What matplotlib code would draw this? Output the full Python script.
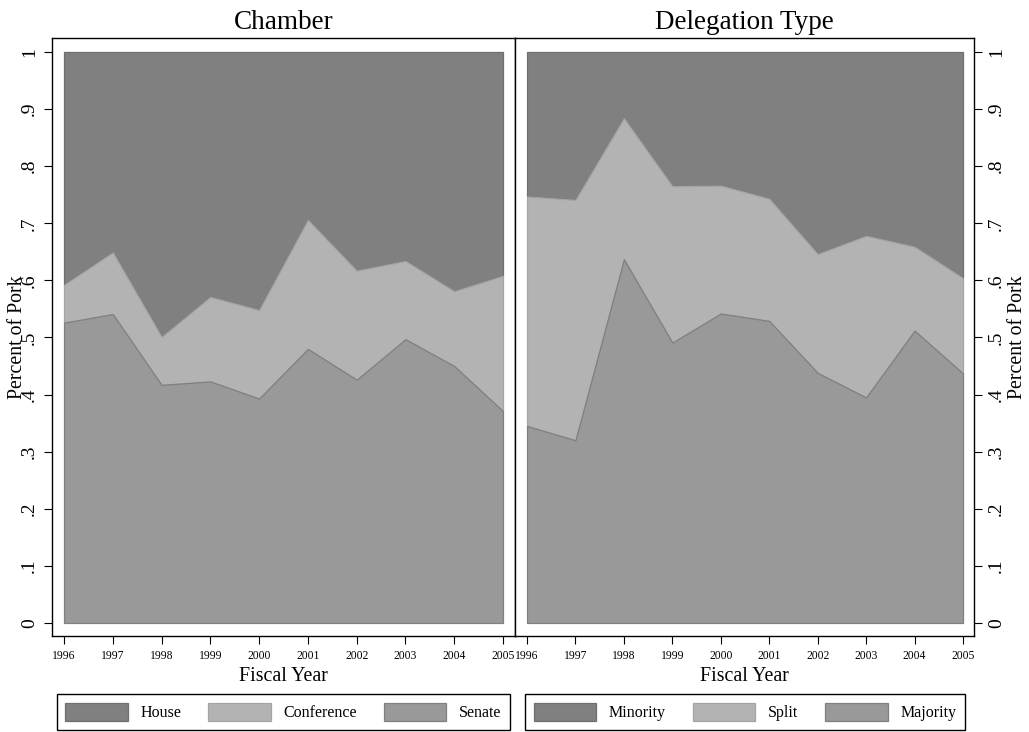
import matplotlib.pyplot as plt

plt.rcParams['font.family'] = ['Liberation Serif', 'DejaVu Serif']

years = [1996, 1997, 1998, 1999, 2000, 2001, 2002, 2003, 2004, 2005]

# share of pork by chamber (bottom to top: Senate, Conference, House)
senate = [.526, .541, .417, .423, .393, .480, .426, .497, .450, .371]
conference = [.066, .108, .084, .148, .155, .226, .191, .137, .131, .237]
house = [.408, .351, .499, .429, .452, .294, .383, .366, .419, .392]

# share of pork by delegation type (bottom to top: Majority, Split, Minority)
majority = [.345, .320, .637, .491, .542, .529, .438, .395, .512, .437]
split = [.402, .421, .247, .274, .224, .214, .208, .283, .147, .167]
minority = [.253, .259, .116, .235, .234, .257, .354, .322, .341, .396]

yticks = [0, .1, .2, .3, .4, .5, .6, .7, .8, .9, 1]
ytick_labels = ['0', '.1', '.2', '.3', '.4', '.5', '.6', '.7', '.8', '.9', '1']

fills = ['#999999', '#b3b3b3', '#808080']
edges = ['#808080', '#a4a4a4', '#6f6f6f']

W, H = 1029, 732
fig = plt.figure(figsize=(W / 100, H / 100), dpi=100)
ax1 = fig.add_axes([52 / W, 1 - 636 / H, 463 / W, 598 / H])
ax2 = fig.add_axes([515 / W, 1 - 636 / H, 459 / W, 598 / H])


def panel(ax, title, series, names, side, xlim, legend_x):
    polys = ax.stackplot(years, *series, colors=fills, labels=names)
    for p, ec, z in zip(polys, edges, [3, 2, 1]):
        p.set_edgecolor(ec)
        p.set_linewidth(0.9)
        p.set_zorder(z)

    ax.set_xlim(*xlim)
    ax.set_ylim(-0.0228, 1.0245)
    ax.set_xticks(years)
    ax.set_xticklabels([str(y) for y in years], fontsize=8.4)
    ax.set_yticks(yticks)
    ax.set_yticklabels(ytick_labels, rotation=90, va='center', fontsize=14)
    ax.tick_params(direction='out', length=6, width=0.8, color='black', pad=4)
    for s in ax.spines.values():
        s.set_linewidth(1.0)
        s.set_color('black')
        s.set_zorder(5)

    ax.set_title(title, fontsize=19.5, pad=6.5)
    ax.set_xlabel('Fiscal Year', fontsize=14.3, labelpad=4)
    ax.set_ylabel('Percent of Pork', fontsize=14.3)
    if side == 'right':
        ax.yaxis.tick_right()
        ax.yaxis.set_label_position('right')
        ax.yaxis.set_label_coords((1018 - 515) / 459, 0.5)
    else:
        ax.yaxis.set_label_coords((18 - 52) / 463, 0.5)
    ax.yaxis.label.set_verticalalignment('center')

    leg = ax.legend(polys[::-1], names[::-1], loc='center', ncol=3,
                    bbox_to_anchor=(legend_x / W, 1 - 712 / H),
                    bbox_transform=fig.transFigure,
                    fontsize=11.5, frameon=True, fancybox=False,
                    edgecolor='black', framealpha=1,
                    handlelength=3.9, handleheight=1.35, handletextpad=0.8,
                    columnspacing=1.7, borderpad=0.55, borderaxespad=0)
    leg.get_frame().set_linewidth(1.0)


panel(ax1, 'Chamber', [senate, conference, house],
      ['Senate', 'Conference', 'House'], 'left',
      (1995.754, 2005.246), 283.5)
panel(ax2, 'Delegation Type', [majority, split, minority],
      ['Majority', 'Split', 'Minority'], 'right',
      (1995.752, 2005.227), 745)

fig.savefig('out.png', dpi=100)
